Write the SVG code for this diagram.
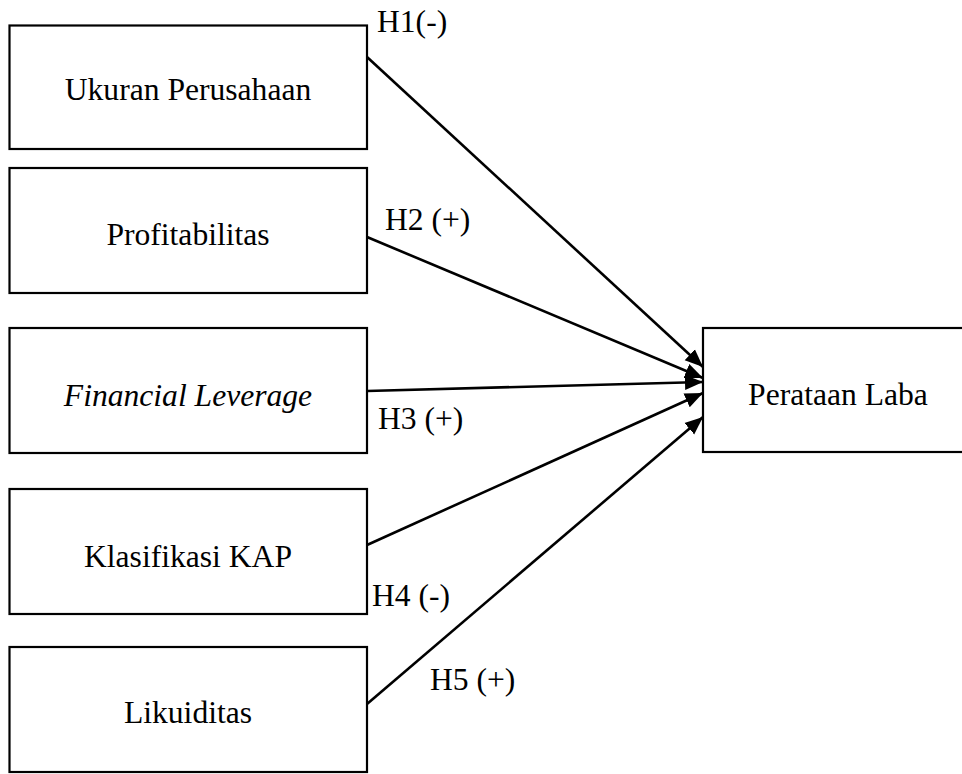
<svg xmlns="http://www.w3.org/2000/svg" width="962" height="774" viewBox="0 0 962 774">
<style>
.box{fill:#fff;stroke:#000;stroke-width:2.2}
.t{font-family:"Liberation Serif","Times New Roman",serif;font-size:31.6px;fill:#000}
.c{text-anchor:middle}
.i{font-style:italic}
.edge{stroke:#000;stroke-width:2.6;fill:none;marker-end:url(#ah)}
</style>
<defs>
<marker id="ah" markerUnits="userSpaceOnUse" markerWidth="20" markerHeight="16" refX="18" refY="8" orient="auto">
<path d="M0,0.5 L18,8 L0,15.5 z" fill="#000"/>
</marker>
</defs>
<rect width="962" height="774" fill="#fff"/>
<g id="n1"><rect class="box" x="9.5" y="25.5" width="357.5" height="123.5"/><text class="t c" x="188" y="100">Ukuran Perusahaan</text></g>
<g id="n2"><rect class="box" x="9.5" y="168" width="357.5" height="125"/><text class="t c" x="188" y="245">Profitabilitas</text></g>
<g id="n3"><rect class="box" x="9.5" y="328" width="357.5" height="125"/><text class="t c i" x="188" y="406">Financial Leverage</text></g>
<g id="n4"><rect class="box" x="9.5" y="489" width="357.5" height="125"/><text class="t c" x="188" y="567">Klasifikasi KAP</text></g>
<g id="n5"><rect class="box" x="9.5" y="647" width="357.5" height="125"/><text class="t c" x="188" y="723">Likuiditas</text></g>
<g id="n6"><rect class="box" x="703" y="328" width="262" height="124"/><text class="t c" x="838" y="405">Perataan Laba</text></g>
<g id="edges">
<line class="edge" x1="367" y1="57" x2="703" y2="367"/>
<line class="edge" x1="367" y1="237" x2="703" y2="378"/>
<line class="edge" x1="367" y1="391" x2="703" y2="382"/>
<line class="edge" x1="367" y1="545" x2="703" y2="393"/>
<line class="edge" x1="367" y1="704" x2="703" y2="417"/>
<text class="t" x="377" y="32">H1(-)</text>
<text class="t" x="385" y="230">H2 (+)</text>
<text class="t" x="378" y="429">H3 (+)</text>
<text class="t" x="372" y="606">H4 (-)</text>
<text class="t" x="430" y="690">H5 (+)</text>
</g>
</svg>
